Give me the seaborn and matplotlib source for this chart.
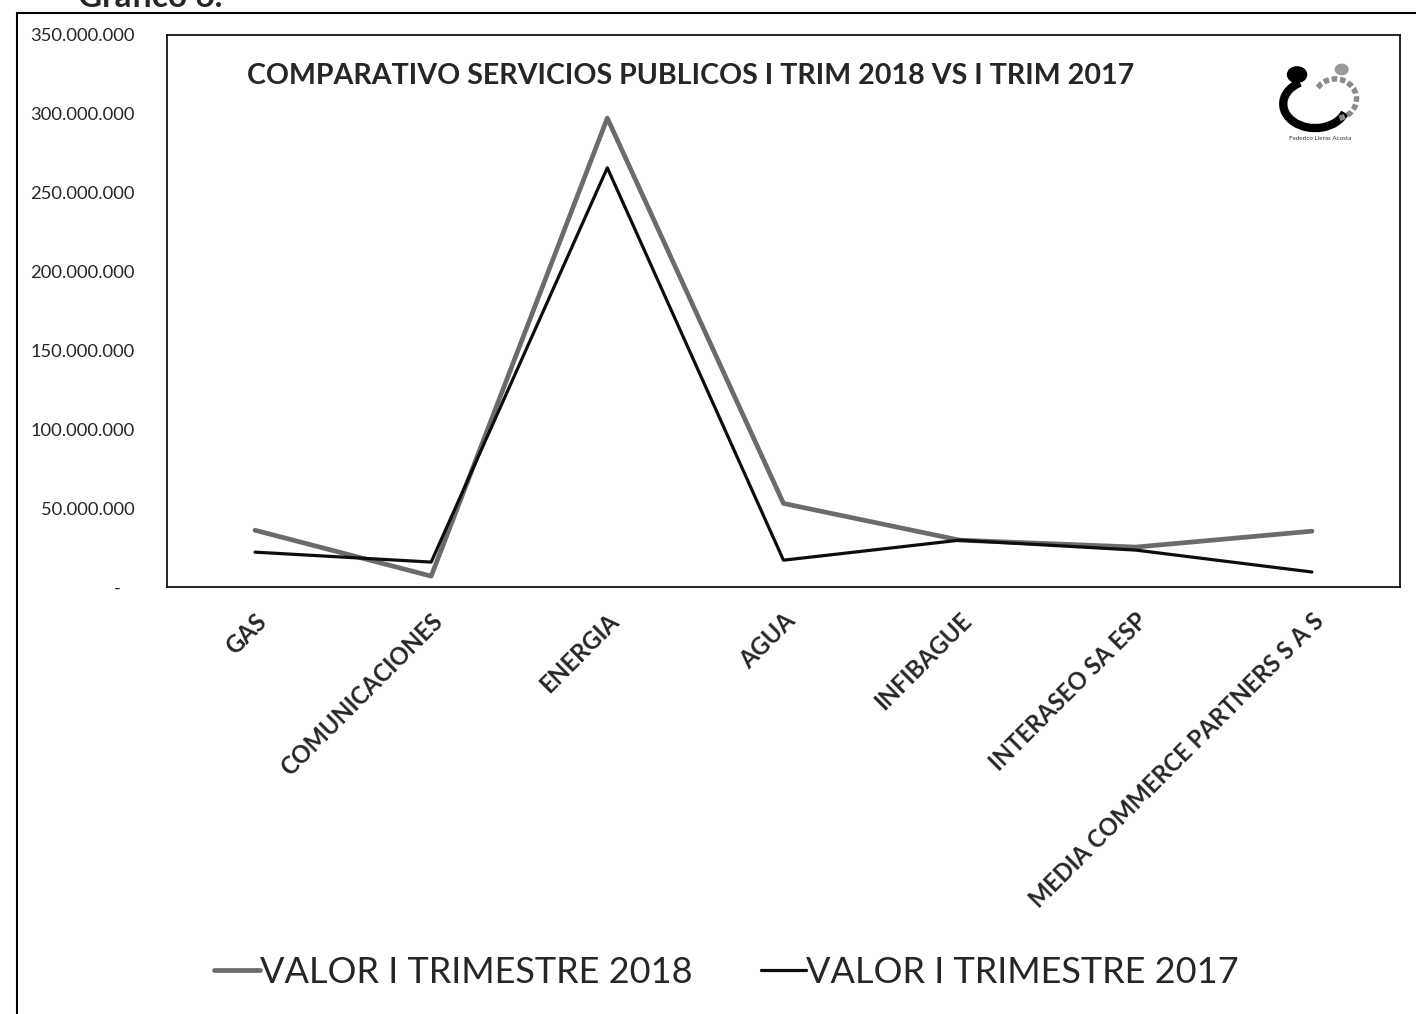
import numpy as np
import pandas as pd
import seaborn as sns
import matplotlib.pyplot as plt
from matplotlib.patches import Circle, Arc
from matplotlib.lines import Line2D

categorias = ['GAS', 'COMUNICACIONES', 'ENERGIA', 'AGUA', 'INFIBAGUE',
              'INTERASEO SA ESP', 'MEDIA COMMERCE PARTNERS S A S']
valor_2018 = [36.0e6, 6.9e6, 297.3e6, 53.0e6, 29.7e6, 25.3e6, 35.4e6]
valor_2017 = [22.1e6, 15.8e6, 265.8e6, 17.0e6, 29.7e6, 23.4e6, 9.5e6]
series = ['VALOR I TRIMESTRE 2018', 'VALOR I TRIMESTRE 2017']
y_ticks = [0, 50e6, 100e6, 150e6, 200e6, 250e6, 300e6, 350e6]

FONT = ['Lato', 'DejaVu Sans']


def fmt_pesos(v):
    if v == 0:
        return '-   '
    return f'{int(v):,}'.replace(',', '.')


def build_frame():
    df = pd.DataFrame({
        'categoria': categorias * 2,
        'valor': valor_2018 + valor_2017,
        'serie': [series[0]] * len(categorias) + [series[1]] * len(categorias),
    })
    return df


def draw_logo(fig):
    ax = fig.add_axes([0.895, 0.855, 0.075, 0.085])
    ax.set_xlim(0, 1)
    ax.set_ylim(0, 1)
    ax.axis('off')
    ax.add_patch(Circle((0.28, 0.84), 0.09, color='black'))
    ax.add_patch(Arc((0.45, 0.5), 0.6, 0.56, theta1=120, theta2=340,
                     color='black', lw=6))
    ax.add_patch(Arc((0.64, 0.56), 0.4, 0.46, theta1=-80, theta2=150,
                     color='#8a8a8a', lw=4, ls=(0, (1, 0.5))))
    ax.add_patch(Circle((0.7, 0.9), 0.06, color='#9a9a9a'))
    ax.text(0.5, 0.1, 'Federico Lleras Acosta', ha='center', va='center',
            fontsize=4.5, family=FONT, color='#333333')


def main():
    sns.set_theme(style='white')
    plt.rcParams['font.family'] = FONT

    df = build_frame()
    fig = plt.figure(figsize=(14.16, 10.14), dpi=100)
    ax = fig.add_axes([0.1179, 0.4211, 0.8708, 0.5444])

    sns.lineplot(data=df, x='categoria', y='valor', hue='serie',
                 hue_order=series, palette=['#6b6b6b', '#0d0d0d'],
                 sort=False, ax=ax, legend=False)
    ax.lines[0].set_linewidth(3.4)
    ax.lines[1].set_linewidth(2.3)

    ax.set_xlim(-0.5, len(categorias) - 0.5)
    ax.set_ylim(0, 350e6)
    ax.set_yticks(y_ticks)
    ax.set_yticklabels([fmt_pesos(v) for v in y_ticks], fontsize=13.2)
    ax.set_xticks(range(len(categorias)))
    ax.set_xticklabels(categorias, rotation=45, ha='right',
                       rotation_mode='anchor', fontsize=17, fontweight='bold')
    ax.tick_params(axis='y', length=0, pad=23)
    ax.tick_params(axis='x', length=0, pad=16)
    ax.set_xlabel('')
    ax.set_ylabel('')
    for s in ax.spines.values():
        s.set_color('black')
        s.set_linewidth(1.2)

    ax.text(0.425, 0.925, 'COMPARATIVO SERVICIOS PUBLICOS I TRIM 2018 VS I TRIM 2017',
            transform=ax.transAxes, ha='center', va='center',
            fontsize=20.6, fontweight='bold')

    handles = [Line2D([], [], color='#6b6b6b', lw=3.4),
               Line2D([], [], color='#0d0d0d', lw=2.3)]
    fig.legend(handles, series, loc='center', bbox_to_anchor=(0.513, 0.041),
               ncol=2, frameon=False, fontsize=26, handlelength=1.25,
               handletextpad=0.0, columnspacing=1.9)

    # marco exterior y titulo cortado del documento
    fig.add_artist(Line2D([0.012, 1.0], [0.987, 0.987], color='black', lw=1.5))
    fig.add_artist(Line2D([0.012, 0.012], [0.0, 0.987], color='black', lw=1.5))
    fig.text(0.055, 0.993, 'Gráfico 6.', ha='left', va='baseline',
             fontsize=24, fontweight='bold')

    draw_logo(fig)

    fig.savefig('out.png', dpi=100, facecolor='white')
    plt.close(fig)


if __name__ == '__main__':
    main()
